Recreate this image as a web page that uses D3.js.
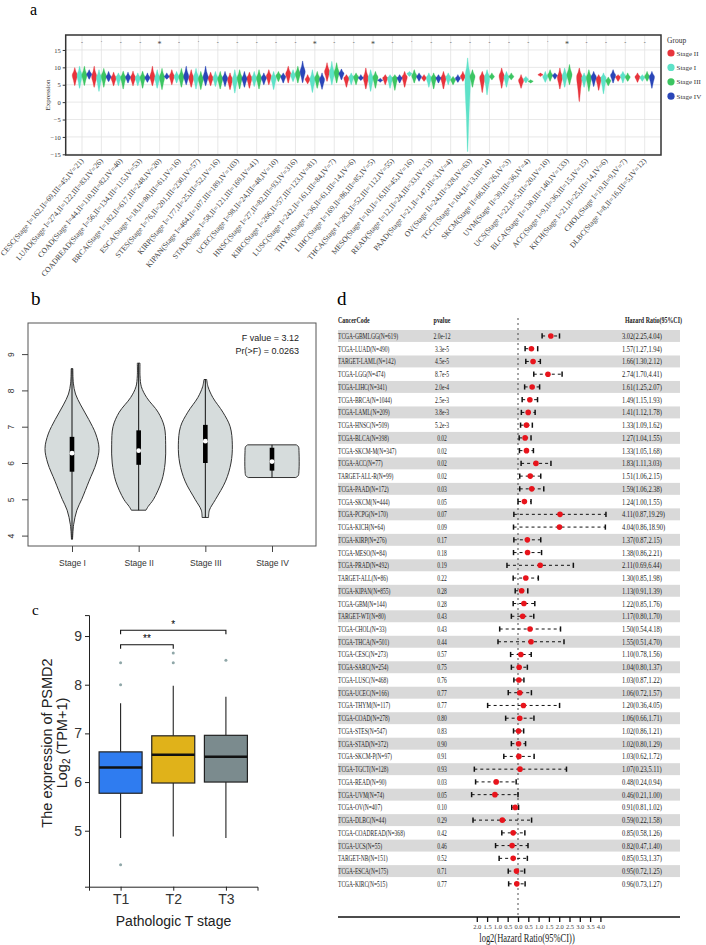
<!DOCTYPE html>
<html><head><meta charset="utf-8">
<script src="https://cdn.jsdelivr.net/npm/d3@7"></script>
<style>body{margin:0;background:#fff}svg{display:block}</style>
</head><body><svg id="fig" width="706" height="945"></svg>
<script>
// ---------------- DATA ----------------
// Panel a
const cancerLabels = [
"CESC(Stage I=162,II=69,III=45,IV=21)","LUAD(Stage I=274,II=122,III=83,IV=26)","COAD(Stage I=44,II=110,III=82,IV=40)",
"COADREAD(Stage I=56,II=134,III=115,IV=53)","BRCA(Stage I=182,II=617,III=248,IV=20)","ESCA(Stage I=18,II=80,III=61,IV=16)",
"STES(Stage I=76,II=201,III=230,IV=57)","KIRP(Stage I=177,II=25,III=52,IV=16)","KIPAN(Stage I=464,II=107,III=189,IV=103)",
"STAD(Stage I=58,II=121,III=169,IV=41)","UCEC(Stage I=98,II=24,III=48,IV=10)","HNSC(Stage I=27,II=82,III=93,IV=316)",
"KIRC(Stage I=266,II=57,III=123,IV=81)","LUSC(Stage I=242,II=161,III=84,IV=7)","THYM(Stage I=36,II=61,III=14,IV=6)",
"LIHC(Stage I=169,II=86,III=85,IV=5)","THCA(Stage I=283,II=52,III=112,IV=55)","MESO(Stage I=10,II=16,III=45,IV=16)",
"READ(Stage I=12,II=24,III=33,IV=13)","PAAD(Stage I=21,II=147,III=3,IV=4)","OV(Stage II=24,III=328,IV=63)",
"TGCT(Stage I=104,II=13,III=14)","SKCM(Stage II=66,III=26,IV=3)","UVM(Stage II=39,III=36,IV=4)",
"UCS(Stage I=22,II=5,III=20,IV=10)","BLCA(Stage II=130,III=140,IV=133)","ACC(Stage I=9,II=36,III=15,IV=15)",
"KICH(Stage I=21,II=25,III=14,IV=6)","CHOL(Stage I=19,II=9,IV=7)","DLBC(Stage I=8,II=16,III=5,IV=12)"];
const stageNames = ["Stage II","Stage I","Stage III","Stage IV"];
const stageColors = ["#e8343c","#5ee2c8","#3cc562","#2a46b8"];
// [min, median, max] per cancer
const stageIIvals = [[4.8,7.8,9.9],[4.3,7.4,10.3],[4.7,7.0,8.6],[4.7,7.1,8.9],[4.7,7.3,10.3],[5.0,7.5,9.3],[4.3,7.0,9.3],[4.7,7.0,8.6],[3.6,6.6,8.4],[4.0,7.0,8.6],
[5.0,7.5,9.3],[5.5,8.2,10.3],[5.3,6.6,7.9],[6.0,8.8,11.3],[4.3,7.0,7.9],[3.8,7.0,9.8],[5.0,7.0,7.9],[4.3,7.3,8.8],[6.0,7.0,7.9],[3.8,7.0,8.8],
[6.0,7.4,8.8],[2.8,7.2,8.8],[4.0,7.6,9.8],[4.0,6.3,7.9],[7.4,7.9,8.4],[3.8,7.2,9.8],[0.2,7.5,9.8],[3.4,6.9,7.9],[6.0,7.2,7.9],[5.7,7.3,8.4]];
const stageIvals = [[4.0,7.8,10.3],[3.1,7.2,9.3],[4.7,7.2,8.4],[4.7,7.0,8.4],[4.0,7.0,9.3],[5.5,7.4,8.8],[3.8,7.2,9.7],[4.5,7.0,8.8],[2.6,6.6,9.3],[4.5,7.0,8.8],
[3.6,7.0,8.8],[5.9,7.8,9.3],[2.8,6.6,9.3],[5.0,8.3,11.7],[5.0,7.2,8.4],[3.1,7.0,9.3],[4.0,7.0,7.9],[7.4,8.2,8.8],[4.3,7.1,8.4],[5.0,7.2,8.4],
[-14.2,7.5,12.7],[2.1,7.3,9.3],[4.3,7.3,8.8],[5.5,6.6,7.4],[5.7,7.3,8.8],[4.3,7.5,9.8],[4.3,7.0,8.4],[2.4,7.0,8.4],[5.5,7.7,8.8],[6.0,7.1,7.9]];
const stageIIIvals = [[4.8,7.8,10.3],[4.3,7.6,9.7],[3.8,7.2,8.9],[4.0,7.2,8.9],[3.6,7.2,9.7],[4.3,7.3,9.7],[3.6,6.8,8.8],[3.8,6.8,8.8],[3.8,7.0,9.3],[3.8,7.0,9.3],
[5.9,7.6,8.8],[5.5,8.2,10.3],[4.0,7.0,8.8],[5.5,8.5,11.3],[5.0,7.3,8.4],[4.0,7.2,8.8],[3.4,7.0,7.9],[5.5,7.6,9.3],[3.8,7.0,8.4],[5.0,6.5,7.4],
[4.3,7.5,9.3],[6.4,7.4,8.4],[6.4,7.4,8.4],[5.5,6.0,6.4],[6.0,7.8,9.3],[5.0,7.9,10.8],[3.1,7.2,9.3],[4.7,6.2,7.2],[6.0,7.2,8.4],[6.0,7.4,8.8]];
const stageIVvals = [[6.6,8.0,9.3],[5.9,7.3,8.8],[5.5,7.2,8.6],[5.7,7.0,8.4],[6.6,7.4,8.4],[5.0,7.4,10.3],[4.7,7.2,10.3],[4.5,7.0,8.8],[4.3,6.8,8.8],[5.0,7.0,8.4],
[5.5,7.4,8.4],[5.6,8.8,11.8],[3.7,6.6,8.4],[6.4,8.3,9.5],[6.2,7.0,7.9],[5.7,6.3,6.9],[5.5,7.0,7.9],[6.0,7.4,8.4],[5.5,7.0,7.9],[5.7,6.9,7.9],
null,null,null,null,[6.6,7.7,8.4],null,[4.5,7.4,8.8],[5.5,7.8,9.3],null,[4.0,7.4,8.8]];
const sigMarks = ["-","·","-","-","*","-","·","-","-","-","-","-","*","-","-","*","-","·","-","-","-","-","-","-","·","*","-","-","-","-"];
const yTicksA = [-15,-10,-5,0,5,10,15];

// Panel b
const bStages = ["Stage I","Stage II","Stage III","Stage IV"];
const bProfiles = [
 [[3.9,0.02],[4.3,0.06],[4.7,0.18],[5.0,0.36],[5.5,0.63],[6.0,0.9],[6.4,1.0],[6.8,0.88],[7.2,0.62],[7.6,0.32],[7.9,0.13],[8.2,0.05],[8.6,0.03]],
 [[4.7,0.27],[4.8,0.35],[5.0,0.55],[5.5,0.85],[6.0,0.98],[6.5,1.0],[7.0,0.95],[7.4,0.72],[7.8,0.3],[8.1,0.1],[8.4,0.05],[8.75,0.05]],
 [[4.5,0.12],[4.7,0.15],[5.0,0.38],[5.5,0.75],[6.0,0.95],[6.5,1.0],[7.0,0.92],[7.4,0.65],[7.8,0.28],[8.1,0.1],[8.3,0.05]],
 [[5.6,0.88],[5.65,0.97],[5.8,1.0],[6.3,1.0],[6.45,0.98],[6.5,0.9]]];
const bMin = [3.9,4.7,4.5,5.6], bMax = [8.6,8.75,8.3,6.5];
const bQ1 = [5.76,5.95,6.0,5.79], bQ3 = [6.72,6.9,7.05,6.42], bMed = [6.27,6.34,6.6,6.04];
const bTicks = [4,5,6,7,8,9];

// Panel c
const tStages = ["T1","T2","T3"];
const tColors = ["#2f7cf0","#e0b21a","#7b8b8e"];
const cQ1 = [5.77,5.98,6.0], cMed = [6.3,6.56,6.52], cQ3 = [6.62,6.95,6.96];
const cLow = [4.85,4.88,4.85], cHigh = [7.62,7.98,7.75];
const cOutliers = [[8.0,8.45,4.3],[8.45,8.65],[8.5]];
const cTicks = [5,6,7,8,9];

// Panel d
const fCodes = ["TCGA-GBMLGG(N=619)","TCGA-LUAD(N=490)","TARGET-LAML(N=142)","TCGA-LGG(N=474)","TCGA-LIHC(N=341)","TCGA-BRCA(N=1044)",
"TCGA-LAML(N=209)","TCGA-HNSC(N=509)","TCGA-BLCA(N=398)","TCGA-SKCM-M(N=347)","TCGA-ACC(N=77)","TARGET-ALL-R(N=99)","TCGA-PAAD(N=172)",
"TCGA-SKCM(N=444)","TCGA-PCPG(N=170)","TCGA-KICH(N=64)","TCGA-KIRP(N=276)","TCGA-MESO(N=84)","TCGA-PRAD(N=492)","TARGET-ALL(N=86)",
"TCGA-KIPAN(N=855)","TCGA-GBM(N=144)","TARGET-WT(N=80)","TCGA-CHOL(N=33)","TCGA-THCA(N=501)","TCGA-CESC(N=273)","TCGA-SARC(N=254)",
"TCGA-LUSC(N=468)","TCGA-UCEC(N=166)","TCGA-THYM(N=117)","TCGA-COAD(N=278)","TCGA-STES(N=547)","TCGA-STAD(N=372)","TCGA-SKCM-P(N=97)",
"TCGA-TGCT(N=128)","TCGA-READ(N=90)","TCGA-UVM(N=74)","TCGA-OV(N=407)","TCGA-DLBC(N=44)","TCGA-COADREAD(N=368)","TCGA-UCS(N=55)",
"TARGET-NB(N=151)","TCGA-ESCA(N=175)","TCGA-KIRC(N=515)"];
const fP = ["2.0e-12","3.3e-5","4.5e-5","8.7e-5","2.0e-4","2.5e-3","3.8e-3","5.2e-3","0.02","0.02","0.02","0.02","0.03","0.05","0.07","0.09",
"0.17","0.18","0.19","0.22","0.28","0.28","0.43","0.43","0.44","0.57","0.75","0.76","0.77","0.77","0.80","0.83","0.90","0.91","0.93",
"0.03","0.05","0.10","0.29","0.42","0.46","0.52","0.71","0.77"];
const fHR = [3.02,1.57,1.66,2.74,1.61,1.49,1.41,1.33,1.27,1.33,1.83,1.51,1.59,1.24,4.11,4.04,1.37,1.38,2.11,1.30,1.13,1.22,1.17,1.50,1.55,
1.10,1.04,1.03,1.06,1.20,1.06,1.02,1.02,1.03,1.07,0.48,0.46,0.91,0.59,0.85,0.82,0.85,0.95,0.96];
const fLo = [2.25,1.27,1.30,1.70,1.25,1.15,1.12,1.09,1.04,1.05,1.11,1.06,1.06,1.00,0.87,0.86,0.87,0.86,0.69,0.85,0.91,0.85,0.80,0.54,0.51,
0.78,0.80,0.87,0.72,0.36,0.66,0.86,0.80,0.62,0.23,0.24,0.21,0.81,0.22,0.58,0.47,0.53,0.72,0.73];
const fHi = [4.04,1.94,2.12,4.41,2.07,1.93,1.78,1.62,1.55,1.68,3.03,2.15,2.38,1.55,19.29,18.90,2.15,2.21,6.44,1.98,1.39,1.76,1.70,4.18,4.70,
1.56,1.37,1.22,1.57,4.05,1.71,1.21,1.29,1.72,5.11,0.94,1.00,1.02,1.58,1.26,1.40,1.37,1.25,1.27];
const fTicks = [-2,-1.5,-1,-0.5,0,0.5,1,1.5,2,2.5,3,3.5,4];

// ---------------- DRAW ----------------
const svg = d3.select("#fig");
const serif = "'Liberation Serif','Times New Roman',serif";
const sans = "'Liberation Sans',Arial,sans-serif";
const intFmt = d3.format("d");

// ===== Panel a =====
const gA = svg.append("g");
gA.append("text").attr("x",30).attr("y",15).attr("font-family",serif).attr("font-size",16).text("a");
const xA = d3.scalePoint().domain(d3.range(cancerLabels.length)).range([65.7,661]).padding(0.84);
const yA = d3.scaleLinear().domain([-15.2,19.3]).range([155,35]);
const dodge = d3.scaleBand().domain(stageNames).range([-9.6,9.6]);
gA.append("rect").attr("x",65.7).attr("y",35).attr("width",661-65.7).attr("height",120).attr("fill","#fff");
gA.selectAll("line.hg").data(yTicksA).join("line").attr("class","hg")
  .attr("x1",65.7).attr("x2",661).attr("y1",d=>yA(d)).attr("y2",d=>yA(d)).attr("stroke","#e2e2e2").attr("stroke-width",0.8);
gA.selectAll("line.vg").data(xA.domain()).join("line").attr("class","vg")
  .attr("x1",d=>xA(d)).attr("x2",d=>xA(d)).attr("y1",35).attr("y2",155).attr("stroke","#e2e2e2").attr("stroke-width",0.8);
const violinA = d3.area().curve(d3.curveCatmullRom).y(d=>yA(d[0])).x0(d=>d[2]-d[1]).x1(d=>d[2]+d[1]);
const allStages = [stageIIvals, stageIvals, stageIIIvals, stageIVvals];
allStages.forEach((arr, si) => {
  arr.forEach((v, ci) => {
    if (!v) return;
    const cx = xA(ci) + dodge(stageNames[si]) + dodge.bandwidth()/2;
    const [lo, med, hi] = v, hw = 2.6;
    const prof = [[lo,0.1*hw,cx],[lo+(med-lo)*0.45,0.5*hw,cx],[med,hw,cx],[med+(hi-med)*0.5,0.42*hw,cx],[hi,0.08*hw,cx]];
    gA.append("path").attr("d", violinA(prof)).attr("fill", stageColors[si]).attr("stroke", stageColors[si]).attr("stroke-width",0.3);
  });
});
gA.selectAll("text.sig").data(sigMarks).join("text").attr("class","sig")
  .attr("x",(d,i)=>xA(i)).attr("y",(d)=> d==="*"?47:44).attr("text-anchor","middle")
  .attr("font-family",serif).attr("font-size",d=>d==="*"?8:6).attr("fill","#444").text(d=>d);
gA.append("rect").attr("x",65.7).attr("y",35).attr("width",661-65.7).attr("height",120)
  .attr("fill","none").attr("stroke","#333").attr("stroke-width",1.5);
const axA = gA.append("g").attr("transform","translate(65.7,0)")
  .call(d3.axisLeft(yA).tickValues(yTicksA).tickSize(3).tickPadding(2).tickFormat(intFmt));
axA.select(".domain").remove();
axA.selectAll("text").attr("font-family",serif).attr("font-size",6.5).attr("fill","#333");
axA.selectAll("line").attr("stroke","#333");
gA.append("text").attr("transform","translate(50,95) rotate(-90)").attr("text-anchor","middle")
  .attr("font-family",serif).attr("font-size",7).attr("fill","#333").text("Expression");
gA.selectAll("text.xl").data(cancerLabels).join("text").attr("class","xl")
  .attr("transform",(d,i)=>`translate(${xA(i)+2},161) rotate(-50)`).attr("text-anchor","end")
  .attr("font-family",serif).attr("font-size",7.7).attr("fill","#444").text(d=>d);
// legend
const lg = gA.append("g").attr("transform","translate(667,0)");
lg.append("text").attr("x",0).attr("y",43).attr("font-family",serif).attr("font-size",7.5).attr("fill","#333").text("Group");
lg.selectAll("circle").data(stageNames).join("circle").attr("cx",4).attr("cy",(d,i)=>53+i*14.4).attr("r",3.6)
  .attr("fill",(d,i)=>stageColors[i]);
lg.selectAll("text.li").data(stageNames).join("text").attr("class","li").attr("x",9.5).attr("y",(d,i)=>55.5+i*14.4)
  .attr("font-family",serif).attr("font-size",7).attr("fill","#333").text(d=>d);

// ===== Panel b =====
const gB = svg.append("g");
gB.append("text").attr("x",31).attr("y",305).attr("font-family",serif).attr("font-size",19).text("b");
const xB = d3.scalePoint().domain(bStages).range([72,272]);
const yB = d3.scaleLinear().domain([4,9]).range([535.6,354.1]);
const wB = 27;
gB.append("rect").attr("x",28).attr("y",323).attr("width",288).attr("height",223).attr("fill","#fff").attr("stroke","#555").attr("stroke-width",1);
const violinB = d3.area().curve(d3.curveCatmullRom).y(d=>yB(d[0])).x0(d=>d[2]-d[1]*wB).x1(d=>d[2]+d[1]*wB);
bStages.forEach((s,i)=>{
  const cx = xB(s);
  gB.append("path").attr("d", violinB(bProfiles[i].map(p=>[p[0],p[1],cx])))
    .attr("fill","#d6dcdc").attr("stroke","#333").attr("stroke-width",1);
  gB.append("line").attr("x1",cx).attr("x2",cx).attr("y1",yB(bMin[i])).attr("y2",yB(bMax[i])).attr("stroke","#111").attr("stroke-width",1);
  gB.append("rect").attr("x",cx-2.3).attr("width",4.6).attr("y",yB(bQ3[i])).attr("height",yB(bQ1[i])-yB(bQ3[i])).attr("fill","#000");
  gB.append("circle").attr("cx",cx).attr("cy",yB(bMed[i])).attr("r",2.4).attr("fill","#fff");
});
const axBy = gB.append("g").attr("transform","translate(28,0)").call(d3.axisLeft(yB).tickValues(bTicks).tickSize(6).tickFormat(intFmt));
axBy.select(".domain").remove();
axBy.selectAll("line").attr("stroke","#444");
axBy.selectAll("text").attr("transform","rotate(-90)").attr("x",0).attr("y",-14.5).attr("dy",null)
  .style("text-anchor","middle").attr("font-family",sans).attr("font-size",8.5).attr("fill","#333");
const axBx = gB.append("g").attr("transform","translate(0,546)").call(d3.axisBottom(xB).tickSize(6).tickPadding(8));
axBx.select(".domain").remove();
axBx.selectAll("line").attr("stroke","#444");
axBx.selectAll("text").attr("font-family",sans).attr("font-size",8.5).attr("fill","#333");
gB.append("text").attr("x",299).attr("y",341).attr("text-anchor","end").attr("font-family",sans).attr("font-size",9).attr("fill","#222").text("F value = 3.12");
gB.append("text").attr("x",299).attr("y",353.5).attr("text-anchor","end").attr("font-family",sans).attr("font-size",9).attr("fill","#222").text("Pr(>F) = 0.0263");

// ===== Panel c =====
const gC = svg.append("g");
gC.append("text").attr("x",32).attr("y",615).attr("font-family",serif).attr("font-size",15).text("c");
const xC = d3.scalePoint().domain(tStages).range([89,257.5]).padding(0.6);
const yC = d3.scaleLinear().domain([3.85,9.43]).range([886.7,615.1]);
const bw = 43;
tStages.forEach((t,i)=>{
  const cx = xC(t);
  gC.append("line").attr("x1",cx).attr("x2",cx).attr("y1",yC(cQ3[i])).attr("y2",yC(cHigh[i])).attr("stroke","#222").attr("stroke-width",1.1);
  gC.append("line").attr("x1",cx).attr("x2",cx).attr("y1",yC(cQ1[i])).attr("y2",yC(cLow[i])).attr("stroke","#222").attr("stroke-width",1.1);
  gC.append("rect").attr("x",cx-bw/2).attr("width",bw).attr("y",yC(cQ3[i])).attr("height",yC(cQ1[i])-yC(cQ3[i]))
    .attr("fill",tColors[i]).attr("stroke","#222").attr("stroke-width",1.2);
  gC.append("line").attr("x1",cx-bw/2).attr("x2",cx+bw/2).attr("y1",yC(cMed[i])).attr("y2",yC(cMed[i])).attr("stroke","#111").attr("stroke-width",2.6);
  gC.selectAll(null).data(cOutliers[i]).join("circle").attr("cx",cx).attr("cy",d=>yC(d)).attr("r",1.5).attr("fill","#8fa7a8");
});
const axCy = gC.append("g").attr("transform","translate(89,0)").call(d3.axisLeft(yC).tickValues(cTicks).tickSize(4).tickPadding(3).tickFormat(intFmt));
axCy.selectAll("text").attr("font-family",sans).attr("font-size",14).attr("fill","#333");
axCy.selectAll("line,path").attr("stroke","#222");
const axCx = gC.append("g").attr("transform",`translate(0,${yC(3.85)})`).call(d3.axisBottom(xC).tickSize(4).tickPadding(3));
axCx.selectAll("text").attr("font-family",sans).attr("font-size",14).attr("fill","#333");
axCx.selectAll("line,path").attr("stroke","#222");
gC.append("text").attr("x",173.5).attr("y",926).attr("text-anchor","middle").attr("font-family",sans).attr("font-size",14).attr("fill","#222").text("Pathologic T stage");
gC.append("text").attr("transform","translate(52,743) rotate(-90)").attr("text-anchor","middle").attr("font-family",sans).attr("font-size",14.5).attr("fill","#222").text("The expression of PSMD2");
const l2 = gC.append("text").attr("transform","translate(67,743) rotate(-90)").attr("text-anchor","middle").attr("font-family",sans).attr("font-size",14.5).attr("fill","#222");
l2.append("tspan").text("Log");
l2.append("tspan").attr("font-size",10).attr("dy",3).text("2");
l2.append("tspan").attr("dy",-3).text(" (TPM+1)");
// brackets
function bracket(a,b,yv,label){
  const y = yC(yv), x1 = xC(a), x2 = xC(b);
  gC.append("path").attr("d",`M${x1},${y+4}V${y}H${x2}V${y+4}`).attr("fill","none").attr("stroke","#111").attr("stroke-width",1.1);
  gC.append("text").attr("x",(x1+x2)/2).attr("y",y-2.5).attr("text-anchor","middle").attr("font-family",sans).attr("font-size",10).text(label);
}
bracket("T1","T2",8.82,"**");
bracket("T1","T3",9.12,"*");

// ===== Panel d =====
const gD = svg.append("g");
gD.append("text").attr("x",337).attr("y",305).attr("font-family",serif).attr("font-size",19).text("d");
const yD = d3.scaleBand().domain(d3.range(fCodes.length)).range([329.6,890.2]);
const xD = d3.scaleLinear().domain([-2,4]).range([476.8,600.4]);
const step = yD.step();
gD.selectAll("rect.band").data(d3.range(fCodes.length).filter(i=>i%2===0)).join("rect").attr("class","band")
  .attr("x",338).attr("width",342).attr("y",i=>yD(i)+0.4).attr("height",step-0.8).attr("fill","#d9d9d9");
function ctext(g,x,y,txt,sx,opts={}){
  const t = g.append("text").attr("transform",`translate(${x},${y}) scale(${sx},1)`)
    .attr("font-family",serif).attr("font-size",opts.size||9).attr("fill","#222").text(txt);
  if(opts.anchor) t.attr("text-anchor",opts.anchor);
  if(opts.bold) t.attr("font-weight","bold");
  return t;
}
ctext(gD,338,323,"CancerCode",0.7,{bold:true,size:8.5});
ctext(gD,442,323,"pvalue",0.7,{bold:true,size:8.5,anchor:"middle"});
ctext(gD,625,323,"Hazard Ratio(95%CI)",0.7,{bold:true,size:8.5});
gD.append("line").attr("x1",xD(0)).attr("x2",xD(0)).attr("y1",318).attr("y2",917).attr("stroke","#222").attr("stroke-width",0.8).attr("stroke-dasharray","2,3");
fCodes.forEach((c,i)=>{
  const cy = yD(i)+step/2;
  ctext(gD,338,cy+3,c,0.615);
  ctext(gD,442,cy+3,fP[i],0.62,{anchor:"middle"});
  ctext(gD,622,cy+3,`${fHR[i].toFixed(2)}(${fLo[i].toFixed(2)},${fHi[i].toFixed(2)})`,0.72);
  const xl = xD(Math.log2(fLo[i])), xh = xD(Math.log2(fHi[i]));
  gD.append("line").attr("x1",xl).attr("x2",xh).attr("y1",cy).attr("y2",cy).attr("stroke","#111").attr("stroke-width",1).attr("stroke-dasharray","3,3");
  [xl,xh].forEach(x=>gD.append("line").attr("x1",x).attr("x2",x).attr("y1",cy-2.6).attr("y2",cy+2.6).attr("stroke","#111").attr("stroke-width",1.5));
  gD.append("circle").attr("cx",xD(Math.log2(fHR[i]))).attr("cy",cy).attr("r",2.8).attr("fill","#e8141c");
});
gD.append("line").attr("x1",338).attr("x2",680).attr("y1",917).attr("y2",917).attr("stroke","#111").attr("stroke-width",1.5);
const axD = gD.append("g").attr("transform","translate(0,917)").call(d3.axisBottom(xD).tickValues(fTicks).tickSize(5).tickPadding(2).tickFormat(d=>Math.abs(d).toFixed(1)));
axD.select(".domain").remove();
axD.selectAll("line").attr("stroke","#111").attr("stroke-width",1.3);
axD.selectAll("text").attr("font-family",serif).attr("font-size",6.5).attr("fill","#444");
gD.append("text").attr("transform","translate(527,942) scale(0.68,1)").attr("text-anchor","middle")
  .attr("font-family",serif).attr("font-size",12.5).attr("fill","#222").text("log2(Hazard Ratio(95%CI))");
</script></body></html>
